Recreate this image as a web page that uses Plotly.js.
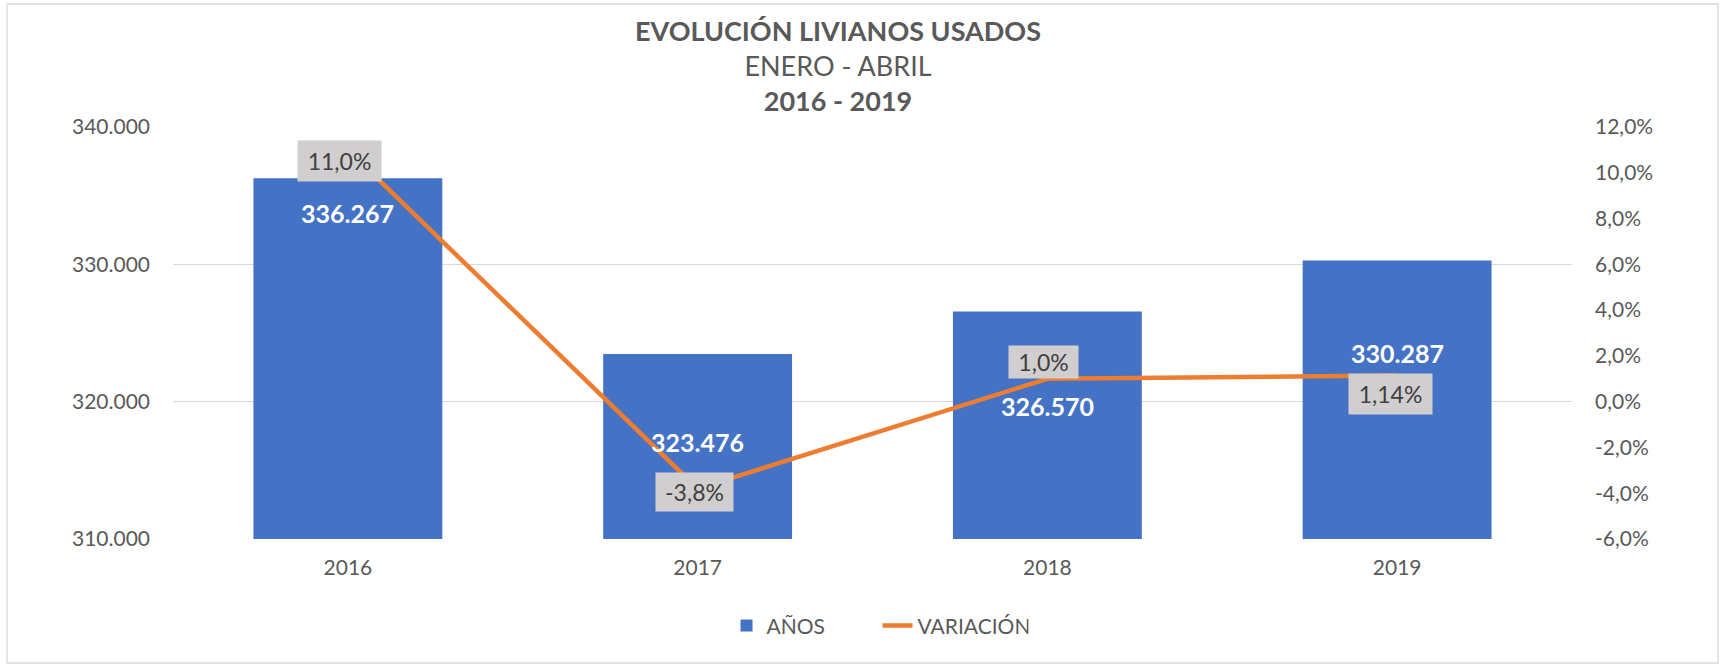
<!DOCTYPE html>
<html>
<head>
<meta charset="utf-8">
<script src="https://cdn.plot.ly/plotly-3.0.1.min.js"></script>
<style>
  html, body { margin: 0; padding: 0; background: #ffffff; }
  #chart { width: 1720px; height: 664px; }
</style>
</head>
<body>
<div id="chart"></div>
<script>
// ---- data ----
const years = ['2016', '2017', '2018', '2019'];
const units = [336267, 323476, 326570, 330287];
const variation = [11.0, -3.8, 1.0, 1.14];
const variationLabels = ['11,0%', '-3,8%', '1,0%', '1,14%'];
const leftTicks = [310000, 320000, 330000, 340000];
const rightTicks = [-6, -4, -2, 0, 2, 4, 6, 8, 10, 12];
const seriesNames = ['AÑOS', 'VARIACIÓN'];
const titleLines = ['EVOLUCIÓN LIVIANOS USADOS', 'ENERO - ABRIL', '2016 - 2019'];

// ---- styles (offsets of manually placed labels, in px) ----
const barLabelShiftY = [-35, -88, -95, -93];
const varLabelShiftX = [-8, -3, -4, -7];
const varLabelShiftY = [-11, -3, 17, -18];
const varBoxW = [83, 77, 69, 83];
const varBoxH = [40, 38, 32, 40];

const FONT = 'Lato, "Open Sans", "DejaVu Sans", sans-serif';
const GREY = '#595959';

function fmtThousands(v) {
  return String(v).replace(/\B(?=(\d{3})+(?!\d))/g, '.');
}
function fmtPct(v) {
  return (v < 0 ? '-' : '') + Math.abs(v).toFixed(1).replace('.', ',') + '%';
}

const barTrace = {
  type: 'bar',
  name: seriesNames[0],
  x: years,
  y: units,
  marker: { color: '#4472C4' },
  hoverinfo: 'x+y'
};

const lineTrace = {
  type: 'scatter',
  mode: 'lines',
  name: seriesNames[1],
  x: years,
  y: variation,
  yaxis: 'y2',
  line: { color: '#ED7D31', width: 4.5 },
  hoverinfo: 'x+y'
};

const annotations = [];
years.forEach((yr, i) => {
  annotations.push({
    xref: 'x', yref: 'y',
    x: i, y: units[i],
    text: '<b>' + fmtThousands(units[i]) + '</b>',
    showarrow: false,
    xanchor: 'center', yanchor: 'middle',
    yshift: barLabelShiftY[i],
    font: { family: FONT, size: 25, color: '#ffffff' }
  });
  annotations.push({
    xref: 'x', yref: 'y2',
    x: i, y: variation[i],
    text: variationLabels[i],
    showarrow: false,
    xanchor: 'center', yanchor: 'middle',
    xshift: varLabelShiftX[i],
    yshift: varLabelShiftY[i],
    width: varBoxW[i], height: varBoxH[i],
    borderpad: 0,
    bgcolor: '#D0CECE',
    font: { family: FONT, size: 23, color: '#404040' }
  });
});

const layout = {
  width: 1720,
  height: 664,
  paper_bgcolor: '#ffffff',
  plot_bgcolor: '#ffffff',
  separators: ',.',
  margin: { l: 173, r: 148, t: 127, b: 125, pad: 0 },
  font: { family: FONT, color: GREY },
  title: {
    text: '<b>' + titleLines[0] + '</b><br>' + titleLines[1] + '<br><b>' + titleLines[2] + '</b>',
    x: 838 / 1720,
    xanchor: 'center',
    xref: 'container',
    yref: 'container',
    y: 1 - 41 / 664,
    yanchor: 'top',
    font: { family: FONT, size: 27, color: GREY }
  },
  bargap: 0.46,
  xaxis: {
    type: 'category',
    range: [-0.5, 3.5],
    showgrid: false,
    zeroline: false,
    showline: false,
    ticks: '',
    tickfont: { family: FONT, size: 21, color: GREY },
    ticklabelstandoff: 14
  },
  yaxis: {
    range: [310000, 340000],
    tickmode: 'array',
    tickvals: leftTicks,
    ticktext: leftTicks.map(fmtThousands),
    showgrid: true,
    gridcolor: '#D9D9D9',
    gridwidth: 1.3,
    zeroline: false,
    showline: false,
    ticks: '',
    tickfont: { family: FONT, size: 21, color: GREY },
    ticklabelstandoff: 22
  },
  yaxis2: {
    overlaying: 'y',
    side: 'right',
    range: [-6, 12],
    tickmode: 'array',
    tickvals: rightTicks,
    ticktext: rightTicks.map(fmtPct),
    showgrid: false,
    zeroline: false,
    showline: false,
    ticks: '',
    tickfont: { family: FONT, size: 21, color: GREY },
    ticklabelstandoff: 22
  },
  showlegend: true,
  legend: {
    orientation: 'h',
    x: 0.5036,
    xanchor: 'center',
    y: -0.211,
    yanchor: 'middle',
    font: { family: FONT, size: 21, color: GREY },
    entrywidth: 106,
    entrywidthmode: 'pixels',
    bgcolor: 'rgba(0,0,0,0)'
  },
  annotations: annotations,
  shapes: [{
    type: 'rect',
    xref: 'paper', yref: 'paper',
    x0: (7 - 173) / 1399, x1: (1718 - 173) / 1399,
    y0: (539 - 663) / 412, y1: (539 - 4) / 412,
    line: { color: '#D9D9D9', width: 1.3 },
    fillcolor: 'rgba(0,0,0,0)',
    layer: 'below'
  }]
};

Plotly.newPlot('chart', [barTrace, lineTrace], layout, { displayModeBar: false, staticPlot: true });
</script>
</body>
</html>
